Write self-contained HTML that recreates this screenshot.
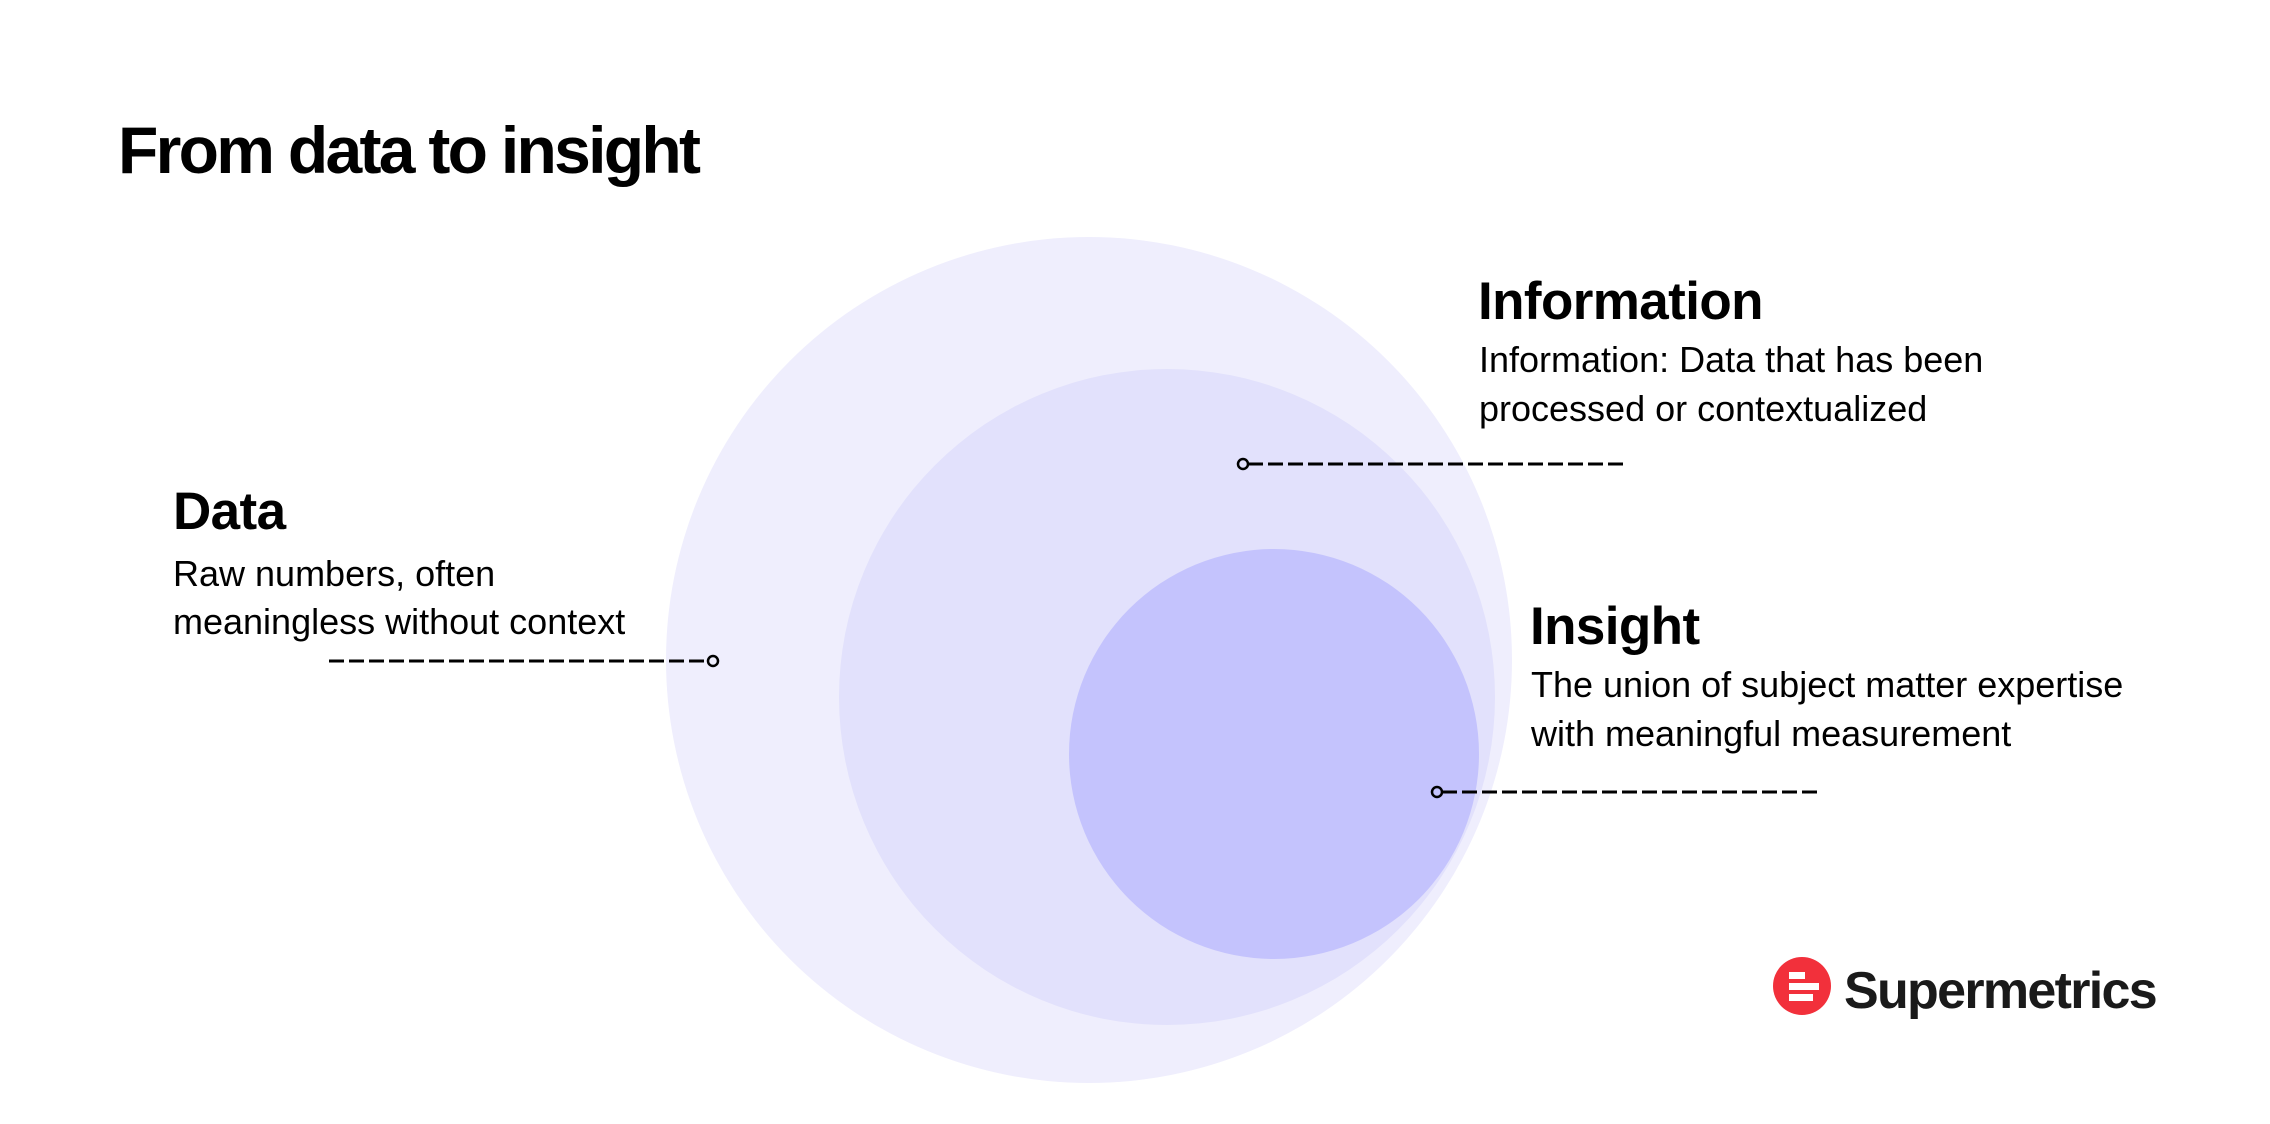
<!DOCTYPE html>
<html><head><meta charset="utf-8"><style>
html,body{margin:0;padding:0;background:#fff;}
svg{display:block;}
text{font-family:"Liberation Sans",Arial,sans-serif;fill:#000;}
.h{font-weight:bold;font-size:53px;letter-spacing:-0.6px;}
.b{font-size:36px;}
</style></head><body>
<svg width="2270" height="1124" viewBox="0 0 2270 1124" xmlns="http://www.w3.org/2000/svg">
<rect width="2270" height="1124" fill="#fff"/>
<circle cx="1089" cy="660" r="423" fill="#efeefd"/>
<circle cx="1167" cy="697" r="328" fill="#e2e1fc"/>
<circle cx="1274" cy="754" r="205" fill="#c4c3fd"/>

<text x="118" y="173" style="font-weight:bold;font-size:66px;letter-spacing:-2.7px">From data to insight</text>

<text class="h" x="173" y="529">Data</text>
<text class="b" x="173" y="586">Raw numbers, often</text>
<text class="b" x="173" y="634">meaningless without context</text>
<line x1="329" y1="661" x2="708" y2="661" stroke="#000" stroke-width="3" stroke-dasharray="15 5"/>
<circle cx="713" cy="661" r="5" fill="none" stroke="#000" stroke-width="2.5"/>

<text class="h" x="1478" y="319">Information</text>
<text class="b" x="1479" y="372">Information: Data that has been</text>
<text class="b" x="1479" y="421">processed or contextualized</text>
<circle cx="1243" cy="464" r="5" fill="none" stroke="#000" stroke-width="2.5"/>
<line x1="1248" y1="464" x2="1626" y2="464" stroke="#000" stroke-width="3" stroke-dasharray="15 5"/>

<text class="h" x="1530" y="644">Insight</text>
<text class="b" x="1531" y="697">The union of subject matter expertise</text>
<text class="b" x="1531" y="746">with meaningful measurement</text>
<circle cx="1437" cy="792" r="5" fill="none" stroke="#000" stroke-width="2.5"/>
<line x1="1442" y1="792" x2="1821" y2="792" stroke="#000" stroke-width="3" stroke-dasharray="15 5"/>

<circle cx="1802" cy="986" r="29" fill="#f2303b"/>
<rect x="1789" y="972" width="16" height="7" fill="#fff"/>
<rect x="1789" y="983" width="30" height="7" fill="#fff"/>
<rect x="1789" y="994" width="24" height="7" fill="#fff"/>
<text x="1844" y="1008" style="font-weight:bold;font-size:52px;letter-spacing:-1.7px;fill:#1a1a1a">Supermetrics</text>
</svg>
</body></html>
